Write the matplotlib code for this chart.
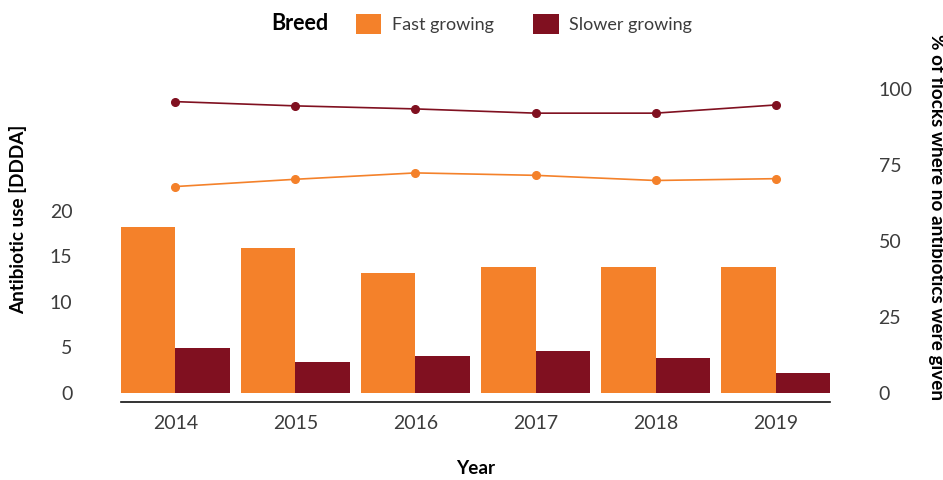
import matplotlib
matplotlib.use("Agg")
import matplotlib.pyplot as plt
import numpy as np
from matplotlib.patches import Patch

years = ["2014", "2015", "2016", "2017", "2018", "2019"]
breeds = ["Fast growing", "Slower growing"]
use_fast = [18.2, 15.9, 13.2, 13.8, 13.8, 13.8]
use_slow = [4.9, 3.4, 4.0, 4.6, 3.8, 2.2]
pct_fast = [67.9, 70.3, 72.4, 71.6, 69.9, 70.5]
pct_slow = [95.9, 94.5, 93.5, 92.1, 92.1, 94.8]
left_ticks = [0, 5, 10, 15, 20]
right_ticks = [0, 25, 50, 75, 100]

c_fast = "#F4812A"
c_slow = "#801020"
tick_col = "#3c3c3c"

plt.rcParams['font.family'] = ['Lato', 'DejaVu Sans']

W, H = 943, 480
fig = plt.figure(figsize=(W / 100, H / 100), dpi=100)
left_px, right_px, base_px, top_px = 121, 830, 392.5, 44
ax = fig.add_axes([left_px / W, (H - base_px) / H, (right_px - left_px) / W, (base_px - top_px) / H])

x = np.arange(len(years))
w = 0.4535
ax.bar(x - w / 2, use_fast, width=w, color=c_fast, linewidth=0)
ax.bar(x + w / 2, use_slow, width=w, color=c_slow, linewidth=0)
ax.set_xlim(-w, len(years) - 1 + w)
ax.set_ylim(0, 38.4)
ax.set_yticks(left_ticks)
ax.set_xticks(x)
ax.set_xticklabels(years)

ax2 = ax.twinx()
ax2.plot(x, pct_fast, color=c_fast, lw=1.2, marker="o", ms=5.5)
ax2.plot(x, pct_slow, color=c_slow, lw=1.2, marker="o", ms=5.5)
ax2.set_ylim(0, 114.9)
ax2.set_yticks(right_ticks)

for a in (ax, ax2):
    for s in ("top", "left", "right"):
        a.spines[s].set_visible(False)
ax2.spines["bottom"].set_visible(False)
ax.spines["bottom"].set_position(("outward", 7))
ax.spines["bottom"].set_linewidth(1.2)
ax.spines["bottom"].set_color("#111111")

ax.tick_params(axis="y", length=0, pad=35, labelsize=14, labelcolor=tick_col)
ax.tick_params(axis="x", length=0, pad=9, labelsize=14, labelcolor=tick_col)
ax2.tick_params(axis="y", length=0, pad=35, labelsize=14, labelcolor=tick_col)
for lab in ax.get_xticklabels() + ax.get_yticklabels() + ax2.get_yticklabels():
    lab.set_fontweight("normal")

fig.text(18 / W, 1 - 219.5 / H, "Antibiotic use [DDDA]", rotation=90, ha="center", va="center",
         fontsize=13.6, fontweight="bold", color="#000000")
fig.text(936 / W, 1 - 217 / H, "% of flocks where no antibiotics were given", rotation=270,
         ha="center", va="center", fontsize=13.6, fontweight="bold", color="#000000")
fig.text(476 / W, 1 - 468 / H, "Year", ha="center", va="center", fontsize=13.6,
         fontweight="bold", color="#000000")

fig.text(300 / W, 1 - 24 / H, "Breed", ha="center", va="center", fontsize=15.5,
         fontweight="bold", color="#000000")
handles = [Patch(facecolor=c_fast, edgecolor="none"), Patch(facecolor=c_slow, edgecolor="none")]
leg = fig.legend(handles, breeds, loc="center left", bbox_to_anchor=(352 / W, 1 - 24 / H),
                 ncol=2, frameon=False, fontsize=13, handlelength=1.4, handleheight=1.35,
                 handletextpad=0.6, columnspacing=2.2, borderaxespad=0, borderpad=0.2)
for t in leg.get_texts():
    t.set_fontweight("normal")
    t.set_color(tick_col)

fig.savefig("out.png", dpi=100)
